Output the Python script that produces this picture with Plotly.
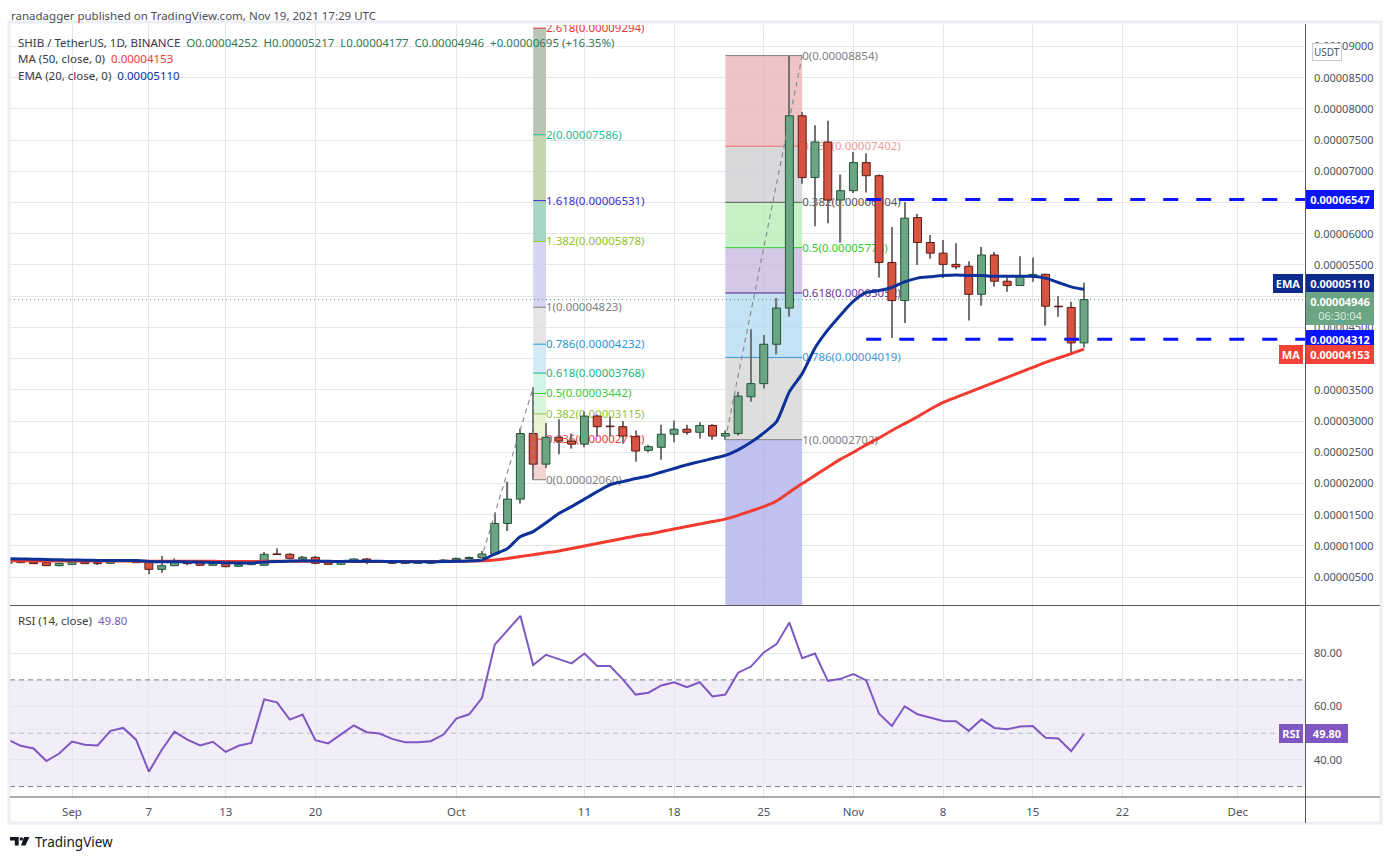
import pandas as pd
import plotly.graph_objects as go

# SHIB/USDT daily, 27 Aug - 19 Nov 2021
# prices are in units of 0.00000001 USDT (the chart shows 8 decimals)
U = 1e-8
DAY = 86400000

dates = pd.date_range("2021-08-27", "2021-11-19", freq="D")

open_ = [722, 775, 743, 732, 684,
         705, 743, 732, 722, 764, 775, 738, 625, 684, 754, 732, 690, 716, 674, 700,
         690, 866, 866, 791, 818, 732, 706, 743, 791, 754, 754, 738, 722, 722, 738,
         775, 800, 815, 870, 1360, 1750, 2800, 2310, 2740, 2680, 2630, 3080, 2920, 2910, 2750,
         2530, 2580, 2790, 2870, 2820, 2930, 2760, 2800, 3390, 3600, 4230, 4810, 7890, 6900, 7470, 6540,
         6690, 7140, 6930, 5540, 4930, 6260, 5860, 5690, 5510, 5480, 5030, 5660, 5240, 5170, 5310,
         5350, 4840, 4820, 4252]
high = [790, 785, 750, 740, 728,
        750, 752, 740, 770, 780, 790, 745, 839, 800, 770, 745, 725, 722, 705, 735,
        903, 962, 882, 840, 839, 740, 760, 800, 805, 765, 770, 750, 738, 738, 790,
        815, 830, 920, 1530, 2030, 2880, 3541, 2970, 3030, 2800, 3150, 3100, 3070, 3000, 2850,
        2620, 2940, 3010, 2940, 2980, 2950, 2850, 3470, 4470, 4380, 4970, 8854, 7950, 7740, 7810, 6950,
        7310, 7290, 6950, 6110, 6510, 6320, 5980, 5900, 5850, 5560, 5790, 5710, 5300, 5640, 5620,
        5360, 5000, 4910, 5217]
low = [715, 728, 712, 678, 676,
       700, 710, 710, 716, 755, 728, 545, 572, 676, 690, 684, 685, 658, 665, 695,
       684, 860, 800, 780, 706, 700, 700, 738, 706, 738, 710, 716, 712, 716, 730,
       770, 795, 805, 850, 1240, 1680, 2060, 2250, 2470, 2560, 2580, 2750, 2750, 2640, 2350,
       2500, 2380, 2660, 2780, 2720, 2700, 2702, 2770, 3310, 3520, 4070, 4670, 6800, 6120, 6170, 5860,
       6650, 6660, 5300, 4330, 4570, 5500, 5600, 5290, 5430, 4610, 4850, 5150, 5070, 5170, 5230,
       4530, 4670, 4070, 4177]
close = [775, 732, 716, 684, 722,
         743, 716, 716, 764, 775, 732, 625, 684, 754, 716, 690, 716, 668, 700, 718,
         866, 862, 802, 818, 722, 706, 748, 791, 754, 743, 722, 722, 732, 738, 775,
         800, 815, 870, 1360, 1750, 2800, 2310, 2740, 2680, 2630, 3080, 2910, 2910, 2760, 2520,
         2590, 2790, 2870, 2820, 2930, 2760, 2800, 3400, 3600, 4230, 4810, 7890, 6900, 7470, 6540, 6690,
         7140, 6930, 5540, 4930, 6250, 5860, 5690, 5510, 5470, 5030, 5660, 5240, 5170, 5320, 5350,
         4840, 4830, 4252, 4946]
# change shown in the legend (exact prices carry more decimals than the chart)
last_change = 695
last_change_pct = 16.35

ema20 = [795, 792, 788, 782, 778,
         775, 772, 768, 768, 768, 765, 752, 745, 746, 744, 738, 736, 730, 728, 728,
         740, 752, 757, 762, 758, 753, 752, 755, 755, 754, 751, 748, 747, 746, 750,
         755, 760, 775, 870, 960, 1150, 1230, 1370, 1520, 1630, 1750, 1870, 1980, 2030, 2080,
         2120, 2180, 2240, 2300, 2350, 2400, 2450, 2540, 2660, 2810, 2990, 3470, 3760, 4170, 4460, 4700,
         4920, 5060, 5090, 5140, 5230, 5290, 5310, 5330, 5340, 5330, 5330, 5320, 5320, 5320, 5320,
         5290, 5220, 5150, 5110]
ma50 = [762, 762, 761, 760, 760,
        759, 759, 758, 758, 758, 757, 756, 755, 755, 754, 754, 753, 752, 752, 752,
        753, 754, 754, 754, 753, 752, 752, 752, 752, 752, 751, 751, 751, 751, 752,
        755, 758, 762, 775, 800, 830, 860, 890, 920, 960, 1000, 1040, 1080, 1120, 1160,
        1190, 1230, 1270, 1310, 1350, 1390, 1430, 1490, 1560, 1630, 1720, 1860, 2000, 2130, 2260, 2390,
        2500, 2620, 2730, 2850, 2960, 3070, 3190, 3300, 3380, 3460, 3540, 3620, 3700, 3780, 3860,
        3940, 4010, 4080, 4153]
rsi14 = [47.6, 45.3, 44.3, 39.6, 42.4,
         46.9, 45.7, 45.4, 50.9, 52.0, 47.6, 35.6, 43.7, 50.6, 47.6, 45.4, 46.8, 43.0, 45.3, 46.4,
         62.7, 61.6, 55.1, 57.0, 47.4, 46.2, 49.6, 52.9, 50.4, 49.9, 47.9, 46.6, 46.6, 47.0, 49.5,
         55.5, 57.1, 63.2, 83.2, 88.4, 94.0, 75.6, 79.4, 77.8, 76.2, 79.9, 75.2, 75.2, 70.2, 64.5,
         65.2, 67.9, 69.1, 67.3, 69.1, 63.8, 64.5, 72.7, 75.0, 80.3, 83.4, 91.5, 78.1, 79.9, 69.6, 70.4,
         72.2, 69.8, 57.3, 52.7, 60.1, 57.1, 55.8, 54.6, 54.5, 50.9, 55.2, 52.0, 51.5, 52.5, 52.7,
         48.3, 48.0, 43.3, 49.80]

# trend based fib extension (Oct 3 -> Oct 7 -> Oct 7)
fib1_levels = ["0", "0.236", "0.382", "0.5", "0.618", "0.786", "1", "1.382", "1.618", "2", "2.618"]
fib1_prices = [2060, 2712, 3115, 3442, 3768, 4232, 4823, 5878, 6531, 7586, 9294]
fib1_swing = [("2021-10-02 22:00", 778), ("2021-10-07", 3541), ("2021-10-07", 2060)]
# fib retracement Oct 22 low -> Oct 28 high (last band runs to 1.618, off chart)
fib2_levels = ["0", "0.236", "0.382", "0.5", "0.618", "0.786", "1", "1.618"]
fib2_prices = [8854, 7402, 6504, 5778, 5052, 4019, 2702, -1100]
fib2_swing = [("2021-10-22", 2702), ("2021-10-28", 8854)]

resistance = 6547
support = 4312
levels_from = "2021-11-02"

tick_dates = ["2021-09-01", "2021-09-07", "2021-09-13", "2021-09-20", "2021-10-01", "2021-10-11",
              "2021-10-18", "2021-10-25", "2021-11-01", "2021-11-08", "2021-11-15", "2021-11-22",
              "2021-12-01"]
tick_text = ["Sep", "7", "13", "20", "Oct", "11", "18", "25", "Nov", "8", "15", "22", "Dec"]

# ---- styling
W, H = 1391, 860
FONT = "Noto Sans"
GRID = "#e6e6ea"
AXIS = "#555861"
TXT = "#4c525e"
UP, UP_EDGE = "#6ba583", "#225437"
DN, DN_EDGE = "#d75442", "#5b1a13"
WICK = "#737375"
EMA_C = "#0c3299"
MA_C = "#f23b2f"
RSI_C = "#7e57c2"

fib1_line = ["#808080", "#e53935", "#95c23d", "#3ec93e", "#16b888", "#2a96d8",
             "#808080", "#8fc31f", "#3030d0", "#1fbf8a", "#e53935"]
fib1_fill = ["#f4d3d3", "#e9f4d3", "#d9f6dc", "#d3f5e8", "#d3e9f4", "#e5e5e5",
             "#d5d5f3", "#a9d6c4", "#c3d6b0", "#bac5b6"]
fib2_line = ["#808080", "#e57373", "#555555", "#33cc33", "#4b1f8c", "#3d9ad8", "#808080", "#6a6ae0"]
fib2_text = ["#808080", "#eb9a9a", "#555555", "#33cc33", "#6a3d9a", "#3d9ad8", "#808080", "#6a6ae0"]
fib2_fill = ["#f0c4c4", "#d9d9dc", "#c6f0c6", "#d4c8e6", "#c3e2f3", "#dedede", "#c1c1f0"]


def fx(p):
    return p / W


def fy(p):
    return 1 - p / H


def soft(hexcol, a=0.8):
    # colour that looks like hexcol over white when drawn with alpha a
    r, g, b = (int(hexcol[i:i + 2], 16) for i in (1, 3, 5))
    c = [max(0, round(255 - (255 - v) / a)) for v in (r, g, b)]
    return f"rgba({c[0]},{c[1]},{c[2]},{a})"


X_DOM = [fx(10), fx(1305)]
X_RANGE = ["2021-08-27 03:50", "2021-12-06 06:00"]
P_RANGE = [54 * U, 9344 * U]

body_base = [min(o, c) * U for o, c in zip(open_, close)]
body_h = [max(abs(c - o), 10) * U for o, c in zip(open_, close)]
is_up = [c >= o for o, c in zip(open_, close)]

fig = go.Figure()

# wicks
fig.add_trace(go.Bar(x=dates, base=[l * U for l in low], y=[(h - l) * U for h, l in zip(high, low)],
                     width=0.1 * DAY, marker=dict(color=WICK, line=dict(width=0)),
                     xaxis="x", yaxis="y", hoverinfo="skip"))
# bodies
fig.add_trace(go.Bar(x=dates, base=body_base, y=body_h, width=0.62 * DAY,
                     marker=dict(color=[UP if u else DN for u in is_up],
                                 line=dict(color=[UP_EDGE if u else DN_EDGE for u in is_up], width=1)),
                     xaxis="x", yaxis="y", hoverinfo="skip"))
fig.add_trace(go.Scatter(x=dates, y=[v * U for v in ma50], mode="lines",
                         line=dict(color=MA_C, width=3, shape="spline", smoothing=0.6),
                         xaxis="x", yaxis="y"))
fig.add_trace(go.Scatter(x=dates, y=[v * U for v in ema20], mode="lines",
                         line=dict(color=EMA_C, width=3, shape="spline", smoothing=0.6),
                         xaxis="x", yaxis="y"))
fig.add_trace(go.Scatter(x=dates, y=rsi14, mode="lines", line=dict(color=RSI_C, width=2),
                         xaxis="x2", yaxis="y2"))

# ---- fib extension
f1x0, f1x1 = "2021-10-07", "2021-10-08"
for i, (lvl, p) in enumerate(zip(fib1_levels, fib1_prices)):
    if i < len(fib1_prices) - 1:
        fig.add_shape(type="rect", xref="x", yref="y", x0=f1x0, x1=f1x1, y0=p * U,
                      y1=fib1_prices[i + 1] * U, fillcolor=soft(fib1_fill[i]), line_width=0,
                      layer="between")
    fig.add_shape(type="line", xref="x", yref="y", x0=f1x0, x1=f1x1, y0=p * U, y1=p * U,
                  line=dict(color=fib1_line[i], width=1), layer="between",
                  label=dict(text=f"{lvl}({p * U:.8f})", textposition="end", xanchor="left",
                             yanchor="middle", padding=4,
                             font=dict(family=FONT, size=11.5, color=fib1_line[i])))
for (xa, ya), (xb, yb) in zip(fib1_swing[:-1], fib1_swing[1:]):
    fig.add_shape(type="line", xref="x", yref="y", x0=xa, x1=xb, y0=ya * U, y1=yb * U,
                  line=dict(color="#8a8d96", width=1.2, dash="5px,4px"), layer="above")

# ---- fib retracement
f2x0, f2x1 = fib2_swing[0][0], fib2_swing[1][0]
for i, (lvl, p) in enumerate(zip(fib2_levels, fib2_prices)):
    if i < len(fib2_prices) - 1:
        fig.add_shape(type="rect", xref="x", yref="y", x0=f2x0, x1=f2x1, y0=p * U,
                      y1=fib2_prices[i + 1] * U, fillcolor=soft(fib2_fill[i]), line_width=0,
                      layer="between")
    if p > 0:
        fig.add_shape(type="line", xref="x", yref="y", x0=f2x0, x1=f2x1, y0=p * U, y1=p * U,
                      line=dict(color=fib2_line[i], width=1), layer="between",
                      label=dict(text=f"{lvl}({p * U:.8f})", textposition="end", xanchor="left",
                                 yanchor="middle", padding=5,
                                 font=dict(family=FONT, size=11.5, color=fib2_text[i])))
fig.add_shape(type="line", xref="x", yref="y", x0=f2x0, x1=f2x1,
              y0=fib2_swing[0][1] * U, y1=fib2_swing[1][1] * U,
              line=dict(color="#8a8d96", width=1.2, dash="5px,4px"), layer="above")

# ---- horizontal levels
for lv in (resistance, support):
    fig.add_shape(type="line", xref="x", yref="y", x0=levels_from, x1=X_RANGE[1], y0=lv * U, y1=lv * U,
                  line=dict(color="#0a14ff", width=3, dash="15px,18px"), layer="above")
fig.add_shape(type="line", xref="x", yref="y", x0=X_RANGE[0], x1=X_RANGE[1],
              y0=close[-1] * U, y1=close[-1] * U,
              line=dict(color="#5b9a7d", width=1, dash="1px,3px"), layer="between")

# ---- RSI bands
fig.add_shape(type="rect", xref="x2", yref="y2", x0=X_RANGE[0], x1=X_RANGE[1], y0=30, y1=70,
              fillcolor="rgba(126,87,194,0.1)", line_width=0, layer="below")
for lv, col in ((70, "#787b86"), (50, "#b8bac2"), (30, "#787b86")):
    fig.add_shape(type="line", xref="x2", yref="y2", x0=X_RANGE[0], x1=X_RANGE[1], y0=lv, y1=lv,
                  line=dict(color=col, width=1, dash="5px,4px"), layer="between")

# ---- frame / separators
fig.add_shape(type="rect", xref="paper", yref="paper", x0=fx(9), x1=fx(1381), y0=fy(823), y1=fy(22),
              line=dict(color="#eceef4", width=3), fillcolor="rgba(0,0,0,0)", layer="above")
for yy in (605.5, 797):
    fig.add_shape(type="line", xref="paper", yref="paper", x0=fx(10), x1=fx(1380), y0=fy(yy), y1=fy(yy),
                  line=dict(color=AXIS, width=1))
fig.add_shape(type="line", xref="paper", yref="paper", x0=fx(1305.5), x1=fx(1305.5), y0=fy(823), y1=fy(24),
              line=dict(color=AXIS, width=1))

# TradingView logo
fig.add_shape(type="path", xref="paper", yref="paper", fillcolor="#131722", line_width=0,
              path=f"M{fx(10)},{fy(837)} L{fx(18.7)},{fy(837)} L{fx(18.7)},{fy(845.5)} L{fx(14.8)},{fy(845.5)} "
                   f"L{fx(14.8)},{fy(840.6)} L{fx(10)},{fy(840.6)} Z")
fig.add_shape(type="circle", xref="paper", yref="paper", fillcolor="#131722", line_width=0,
              x0=fx(19.6), x1=fx(23), y0=fy(840.6), y1=fy(837.2))
fig.add_shape(type="path", xref="paper", yref="paper", fillcolor="#131722", line_width=0,
              path=f"M{fx(24)},{fy(837)} L{fx(29.5)},{fy(837)} L{fx(25.4)},{fy(845.5)} L{fx(21)},{fy(845.5)} Z")


def note(x, y, text, size=12, color=TXT, **kw):
    fig.add_annotation(x=fx(x), y=fy(y), xref="paper", yref="paper", text=text, showarrow=False,
                       xanchor="left", yanchor="middle", font=dict(family=FONT, size=size, color=color), **kw)


note(9, 15, "ranadagger published on TradingView.com, Nov 19, 2021 17:29 UTC", 11.5, "#4a4e59")
OHLC_C = "#2f7a55"
note(16, 42, "SHIB / TetherUS, 1D, BINANCE&nbsp;&nbsp;"
     f"<span style='color:{OHLC_C}'>O{open_[-1] * U:.8f}&nbsp;&nbsp;H{high[-1] * U:.8f}&nbsp;&nbsp;"
     f"L{low[-1] * U:.8f}&nbsp;&nbsp;C{close[-1] * U:.8f}&nbsp;&nbsp;"
     f"+{last_change * U:.8f} (+{last_change_pct:.2f}%)</span>", 11.5, "#363a45")
note(16, 59, f"MA (50, close, 0)&nbsp;&nbsp;<span style='color:{MA_C}'>{ma50[-1] * U:.8f}</span>", 11.5, "#363a45")
note(16, 76, f"EMA (20, close, 0)&nbsp;&nbsp;<span style='color:{EMA_C}'>{ema20[-1] * U:.8f}</span>", 11.5, "#363a45")
note(16, 620, f"RSI (14, close)&nbsp;&nbsp;<span style='color:{RSI_C}'>{rsi14[-1]:.2f}</span>", 11.5, "#363a45")
note(33, 842, "TradingView", 13.5, "#131722")

# USDT badge
fig.add_annotation(x=fx(1342), y=fy(43), xref="paper", yref="paper", text="USDT", showarrow=False,
                   font=dict(family=FONT, size=10, color="#50535e"), bgcolor="white",
                   bordercolor="#c9ccd4", borderwidth=1, borderpad=1)


def tag(y, text, bg, yref="y", width=64, x=1306, anchor="left", yshift=0, yanchor="middle"):
    fig.add_annotation(x=fx(x), xref="paper", y=y, yref=yref, text=text, showarrow=False,
                       xanchor=anchor, yanchor=yanchor, yshift=yshift, width=width, align="center",
                       bgcolor=bg, bordercolor=bg, borderwidth=1, borderpad=1,
                       font=dict(family=FONT, size=11, color="white"))


tag(resistance * U, f"<b>{resistance * U:.8f}</b>", "#0a14ff")
tag(support * U, f"<b>{support * U:.8f}</b>", "#0a14ff")
tag(ema20[-1] * U, f"<b>{ema20[-1] * U:.8f}</b>", "#0d2a8c", yshift=6)
tag(ema20[-1] * U, "<b>EMA</b>", "#0d2a8c", width=26, x=1303, anchor="right", yshift=6)
tag(close[-1] * U, f"<b>{close[-1] * U:.8f}</b><br><span style='color:#d6eadf'>06:30:04</span>",
    UP, yshift=8, yanchor="top")
tag(ma50[-1] * U, f"<b>{ma50[-1] * U:.8f}</b>", "#f44336", yshift=-5)
tag(ma50[-1] * U, "<b>MA</b>", "#f44336", width=20, x=1303, anchor="right", yshift=-5)
tag(rsi14[-1], f"<b>{rsi14[-1]:.2f}</b>", RSI_C, yref="y2", width=38)
tag(rsi14[-1], "<b>RSI</b>", RSI_C, yref="y2", width=20, x=1303, anchor="right")

fig.update_layout(
    width=W, height=H, margin=dict(l=0, r=0, t=0, b=0),
    paper_bgcolor="white", plot_bgcolor="white",
    showlegend=False, hovermode=False, barmode="overlay",
    font=dict(family=FONT, size=11, color=TXT),
    xaxis=dict(domain=X_DOM, range=X_RANGE, anchor="y", type="date", tickvals=tick_dates,
               showticklabels=False, showgrid=True, gridcolor=GRID, zeroline=False, showline=False,
               ticks=""),
    xaxis2=dict(domain=X_DOM, range=X_RANGE, anchor="y2", type="date", matches="x",
                tickvals=tick_dates, ticktext=tick_text, showgrid=True, gridcolor=GRID,
                zeroline=False, showline=False, ticks="", ticklabelstandoff=6,
                tickfont=dict(family=FONT, size=11.5, color=TXT)),
    yaxis=dict(domain=[fy(605), fy(25)], range=P_RANGE, anchor="x", side="right",
               tick0=0, dtick=500 * U, tickformat=".8f", showgrid=True, gridcolor=GRID,
               zeroline=False, showline=False, ticks="", ticklabelstandoff=8,
               tickfont=dict(family=FONT, size=11, color=TXT)),
    yaxis2=dict(domain=[fy(797), fy(606)], range=[26.1, 97.7], anchor="x2", side="right",
                tickvals=[40, 60, 80], ticktext=["40.00", "60.00", "80.00"], showgrid=True,
                gridcolor=GRID, zeroline=False, showline=False, ticks="", ticklabelstandoff=8,
                tickfont=dict(family=FONT, size=11, color=TXT)),
)

fig.write_html("out.html", config={"displayModeBar": False},
               post_script="document.body.style.margin='0';document.body.style.overflow='hidden';")
